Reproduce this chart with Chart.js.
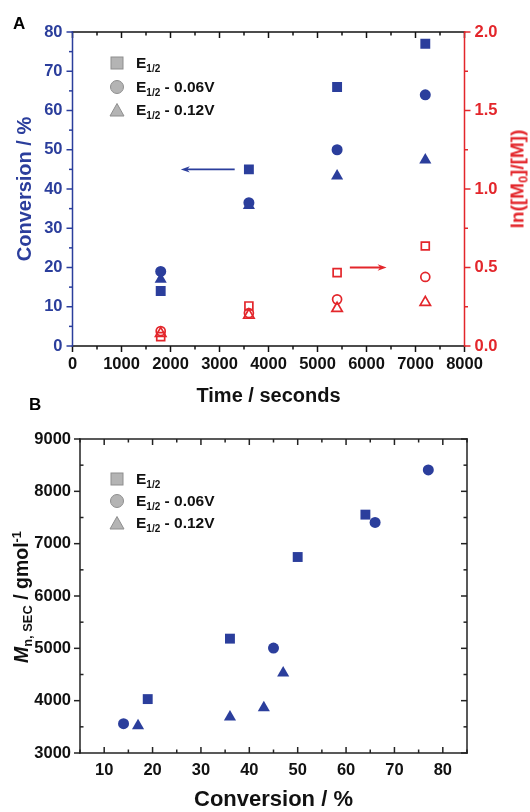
<!DOCTYPE html>
<html>
<head>
<meta charset="utf-8">
<script src="https://cdn.jsdelivr.net/npm/chart.js@4.4.1/dist/chart.umd.min.js"></script>
<style>
html,body{margin:0;padding:0;background:#fff;}
body{width:530px;height:812px;position:relative;overflow:hidden;font-family:"Liberation Sans",Arial,sans-serif;font-weight:bold;}
#wa{position:absolute;left:0;top:0;width:530px;height:408px;}
#wb{position:absolute;left:0;top:408px;width:530px;height:404px;}
.txt{position:absolute;white-space:nowrap;line-height:1;}
.rot{transform:translate(-50%,-50%) rotate(-90deg);}
.sub{font-size:0.66em;vertical-align:-0.28em;line-height:0;}
.sup{font-size:0.66em;vertical-align:0.55em;line-height:0;}
.leg{position:absolute;white-space:nowrap;line-height:1;font-size:15.5px;color:#111;}
.sym{position:absolute;}
</style>
</head>
<body>
<div id="wa"><canvas id="ca"></canvas></div>
<div id="wb"><canvas id="cb"></canvas></div>

<div class="txt" style="left:13px;top:15px;font-size:17px;color:#000;">A</div>
<div class="txt" style="left:29px;top:396px;font-size:17px;color:#000;">B</div>

<div class="txt rot" style="left:517px;top:179px;font-size:19px;color:#e3262b;">ln([M<span class="sub">0</span>]/[M])</div>
<div class="txt rot" style="left:22px;top:597px;font-size:19.5px;color:#111;"><i>M</i><span class="sub">n, SEC</span> / gmol<span class="sup">-1</span></div>

<div id="legends"></div>

<script>
// ---------- DATA ----------
const timeSeconds = [1800, 3600, 5400, 7200];
const convE12     = [14, 45, 66, 77];
const convE12m006 = [19, 36.5, 50, 64];
const convE12m012 = [17, 35.8, 43.3, 47.4];
const lnE12       = [0.06, 0.255, 0.467, 0.637];
const lnE12m006   = [0.095, 0.21, 0.297, 0.44];
const lnE12m012   = [0.08, 0.197, 0.24, 0.278];

const convB_E12   = [19, 36, 50, 64];
const mnB_E12     = [4030, 5185, 6745, 7555];
const convB_m006  = [14, 45, 66, 77];
const mnB_m006    = [3560, 5005, 7405, 8410];
const convB_m012  = [17, 36, 43, 47];
const mnB_m012    = [3520, 3690, 3865, 4530];

const ticksTime   = [0, 1000, 2000, 3000, 4000, 5000, 6000, 7000, 8000];
const ticksConvA  = [0, 10, 20, 30, 40, 50, 60, 70, 80];
const ticksLn     = [0, 0.5, 1.0, 1.5, 2.0];
const ticksConvB  = [10, 20, 30, 40, 50, 60, 70, 80];
const ticksMn     = [3000, 4000, 5000, 6000, 7000, 8000, 9000];

const seriesNames = ['E1/2', 'E1/2 - 0.06V', 'E1/2 - 0.12V'];

// arrows (data units)
const arrowsA = [
  {x0: 3310, x1: 2210, y: 45, scale: 'y', color: '#2b3e9c'},
  {x0: 5660, x1: 6410, y: 0.5, scale: 'y1', color: '#e3262b'}
];

// ---------- STYLE ----------
const BLUE = '#2b3e9c';
const RED = '#e3262b';
const FONT = '"Liberation Sans", Arial, sans-serif';
const TICK_SIZE = 16.5;
Chart.defaults.font.family = FONT;
Chart.defaults.font.weight = 'bold';

function pts(xs, ys){ return xs.map((x,i)=>({x:x, y:ys[i]})); }
const plain = v => String(v);

const framePlugin = {
  id: 'frame',
  afterDraw(chart, args, opts) {
    const ctx = chart.ctx, a = chart.chartArea;
    ctx.save();
    ctx.lineWidth = opts.lineWidth || 1.5;
    for (const s of opts.sides) {
      const sc = chart.scales[s.scale];
      ctx.strokeStyle = s.color;
      ctx.lineCap = 'square';
      ctx.beginPath();
      if (s.edge === 'bottom') { ctx.moveTo(a.left, a.bottom); ctx.lineTo(a.right, a.bottom); }
      if (s.edge === 'top')    { ctx.moveTo(a.left, a.top);    ctx.lineTo(a.right, a.top); }
      if (s.edge === 'left')   { ctx.moveTo(a.left, a.top);    ctx.lineTo(a.left, a.bottom); }
      if (s.edge === 'right')  { ctx.moveTo(a.right, a.top);   ctx.lineTo(a.right, a.bottom); }
      ctx.stroke();
      ctx.lineCap = 'butt';
      const n = Math.round((sc.max - sc.min) / s.minor);
      for (let i = 0; i <= n; i++) {
        const v = sc.min + i * s.minor;
        const r = v / s.major;
        const major = Math.abs(r - Math.round(r)) < 1e-6;
        const len = major ? opts.majorLen : opts.minorLen;
        const dir = major ? s.majorDir : s.minorDir;
        const sign = dir === 'out' ? 1 : -1;
        const p = sc.getPixelForValue(v);
        ctx.beginPath();
        if (s.edge === 'bottom') { ctx.moveTo(p, a.bottom); ctx.lineTo(p, a.bottom + sign*len); }
        if (s.edge === 'top')    { ctx.moveTo(p, a.top);    ctx.lineTo(p, a.top - sign*len); }
        if (s.edge === 'left')   { ctx.moveTo(a.left, p);   ctx.lineTo(a.left - sign*len, p); }
        if (s.edge === 'right')  { ctx.moveTo(a.right, p);  ctx.lineTo(a.right + sign*len, p); }
        ctx.stroke();
      }
    }
    ctx.restore();
  }
};

const arrowPlugin = {
  id: 'arrows',
  afterDatasetsDraw(chart, args, opts) {
    if (!opts.items) return;
    const ctx = chart.ctx;
    ctx.save();
    for (const ar of opts.items) {
      const xs = chart.scales.x, ys = chart.scales[ar.scale];
      const px0 = xs.getPixelForValue(ar.x0), px1 = xs.getPixelForValue(ar.x1), py = ys.getPixelForValue(ar.y);
      const d = Math.sign(px1 - px0);
      const hl = 9, hw = 3.2;
      ctx.strokeStyle = ar.color; ctx.fillStyle = ar.color; ctx.lineWidth = 1.8;
      ctx.beginPath(); ctx.moveTo(px0, py); ctx.lineTo(px1 - d*hl*0.6, py); ctx.stroke();
      ctx.beginPath(); ctx.moveTo(px1, py); ctx.lineTo(px1 - d*hl, py - hw); ctx.lineTo(px1 - d*hl*0.7, py); ctx.lineTo(px1 - d*hl, py + hw); ctx.closePath(); ctx.fill();
    }
    ctx.restore();
  }
};

function tickFont(sz){ return {family: FONT, weight: 'bold', size: sz}; }

// ---------- CHART A ----------
new Chart(document.getElementById('ca'), {
  type: 'scatter',
  data: {
    datasets: [
      {label: seriesNames[1], data: pts(timeSeconds, convE12m006), yAxisID: 'y', pointStyle: 'circle', pointRadius: 5.5, pointHoverRadius: 5.5, backgroundColor: BLUE, borderColor: BLUE, borderWidth: 0},
      {label: seriesNames[0], data: pts(timeSeconds, convE12), yAxisID: 'y', pointStyle: 'rect', pointRadius: 7, pointHoverRadius: 7, backgroundColor: BLUE, borderColor: BLUE, borderWidth: 0},
      {label: seriesNames[2], data: pts(timeSeconds, convE12m012), yAxisID: 'y', pointStyle: 'triangle', pointRadius: 7, pointHoverRadius: 7, backgroundColor: BLUE, borderColor: BLUE, borderWidth: 0},
      {label: seriesNames[0], data: pts(timeSeconds, lnE12), yAxisID: 'y1', pointStyle: 'rect', pointRadius: 5.6, pointHoverRadius: 5.6, backgroundColor: 'rgba(255,255,255,0)', borderColor: RED, borderWidth: 1.7},
      {label: seriesNames[1], data: pts(timeSeconds, lnE12m006), yAxisID: 'y1', pointStyle: 'circle', pointRadius: 4.5, pointHoverRadius: 4.5, backgroundColor: 'rgba(255,255,255,0)', borderColor: RED, borderWidth: 1.7},
      {label: seriesNames[2], data: pts(timeSeconds, lnE12m012), yAxisID: 'y1', pointStyle: 'triangle', pointRadius: 6, pointHoverRadius: 6, backgroundColor: 'rgba(255,255,255,0)', borderColor: RED, borderWidth: 1.7}
    ]
  },
  options: {
    responsive: true, maintainAspectRatio: false, animation: false,
    events: [],
    layout: {padding: {top: 32, left: 0, right: 0, bottom: 0}},
    plugins: {
      legend: {display: false}, tooltip: {enabled: false},
      frame: {lineWidth: 1.5, majorLen: 6, minorLen: 3.5, sides: [
        {scale: 'x', edge: 'bottom', color: '#111', majorDir: 'out', minorDir: 'out', major: 1000, minor: 500},
        {scale: 'x', edge: 'top', color: '#111', majorDir: 'in', minorDir: 'in', major: 1000, minor: 500},
        {scale: 'y', edge: 'left', color: BLUE, majorDir: 'out', minorDir: 'out', major: 10, minor: 5},
        {scale: 'y1', edge: 'right', color: RED, majorDir: 'out', minorDir: 'out', major: 0.5, minor: 0.25}
      ]},
      arrows: {items: arrowsA}
    },
    scales: {
      x: {
        type: 'linear', position: 'bottom', min: 0, max: 8000,
        afterBuildTicks(s){ s.ticks = ticksTime.map(v=>({value:v})); },
        afterFit(s){ s.height = 62; },
        ticks: {color: '#111', font: tickFont(TICK_SIZE), padding: 9, maxRotation: 0, autoSkip: false, callback: plain},
        grid: {display: false, drawTicks: false}, border: {display: false},
        title: {display: true, text: 'Time / seconds', color: '#111', font: {family: FONT, weight: 'bold', size: 20, lineHeight: 1}, padding: {top: 0, bottom: 2}}
      },
      y: {
        type: 'linear', position: 'left', min: 0, max: 80,
        afterBuildTicks(s){ s.ticks = ticksConvA.map(v=>({value:v})); },
        afterFit(s){ s.width = 72.5; },
        ticks: {color: BLUE, font: tickFont(TICK_SIZE), padding: 10, autoSkip: false, callback: plain},
        grid: {display: false, drawTicks: false}, border: {display: false},
        title: {display: true, text: 'Conversion / %', color: BLUE, font: {family: FONT, weight: 'bold', size: 20, lineHeight: 1}, padding: {top: 15, bottom: 0}}
      },
      y1: {
        type: 'linear', position: 'right', min: 0, max: 2,
        afterBuildTicks(s){ s.ticks = ticksLn.map(v=>({value:v})); },
        afterFit(s){ s.width = 65.5; },
        ticks: {color: RED, font: tickFont(TICK_SIZE), padding: 10, autoSkip: false, callback: v => Number(v).toFixed(1)},
        grid: {display: false, drawTicks: false}, border: {display: false}
      }
    }
  },
  plugins: [framePlugin, arrowPlugin]
});

// ---------- CHART B ----------
new Chart(document.getElementById('cb'), {
  type: 'scatter',
  data: {
    datasets: [
      {label: seriesNames[1], data: pts(convB_m006, mnB_m006), pointStyle: 'circle', pointRadius: 5.5, pointHoverRadius: 5.5, backgroundColor: BLUE, borderColor: BLUE, borderWidth: 0},
      {label: seriesNames[0], data: pts(convB_E12, mnB_E12), pointStyle: 'rect', pointRadius: 7, pointHoverRadius: 7, backgroundColor: BLUE, borderColor: BLUE, borderWidth: 0},
      {label: seriesNames[2], data: pts(convB_m012, mnB_m012), pointStyle: 'triangle', pointRadius: 7, pointHoverRadius: 7, backgroundColor: BLUE, borderColor: BLUE, borderWidth: 0}
    ]
  },
  options: {
    responsive: true, maintainAspectRatio: false, animation: false,
    events: [],
    layout: {padding: {top: 31, left: 0, right: 63, bottom: 0}},
    plugins: {
      legend: {display: false}, tooltip: {enabled: false},
      frame: {lineWidth: 1.5, majorLen: 6, minorLen: 3.5, sides: [
        {scale: 'x', edge: 'bottom', color: '#222', majorDir: 'in', minorDir: 'in', major: 10, minor: 5},
        {scale: 'x', edge: 'top', color: '#222', majorDir: 'in', minorDir: 'in', major: 10, minor: 5},
        {scale: 'y', edge: 'left', color: '#222', majorDir: 'out', minorDir: 'in', major: 1000, minor: 500},
        {scale: 'y', edge: 'right', color: '#222', majorDir: 'in', minorDir: 'in', major: 1000, minor: 500}
      ]}
    },
    scales: {
      x: {
        type: 'linear', position: 'bottom', min: 5, max: 85,
        afterBuildTicks(s){ s.ticks = ticksConvB.map(v=>({value:v})); },
        afterFit(s){ s.height = 59; },
        ticks: {color: '#111', font: tickFont(TICK_SIZE), padding: 8, maxRotation: 0, autoSkip: false, callback: plain},
        grid: {display: false, drawTicks: false}, border: {display: false},
        title: {display: true, text: 'Conversion / %', color: '#111', font: {family: FONT, weight: 'bold', size: 22, lineHeight: 1}, padding: {top: 0, bottom: 1}}
      },
      y: {
        type: 'linear', position: 'left', min: 3000, max: 9000,
        afterBuildTicks(s){ s.ticks = ticksMn.map(v=>({value:v})); },
        afterFit(s){ s.width = 80; },
        ticks: {color: '#111', font: tickFont(TICK_SIZE), padding: 9, autoSkip: false, callback: plain},
        grid: {display: false, drawTicks: false}, border: {display: false}
      }
    }
  },
  plugins: [framePlugin]
});

// ---------- LEGENDS (HTML text) ----------
function legendSym(kind, cx, cy){
  const s = 16;
  let shape = '';
  const fill = '#b4b4b4', stroke = '#8e8e8e';
  if (kind === 'rect') shape = '<rect x="2" y="2" width="12" height="12" fill="'+fill+'" stroke="'+stroke+'" stroke-width="1"/>';
  if (kind === 'circle') shape = '<circle cx="8" cy="8" r="6.5" fill="'+fill+'" stroke="'+stroke+'" stroke-width="1"/>';
  if (kind === 'triangle') shape = '<polygon points="8,1.5 15,14 1,14" fill="'+fill+'" stroke="'+stroke+'" stroke-width="1"/>';
  return '<svg class="sym" width="'+s+'" height="'+s+'" style="left:'+(cx-8)+'px;top:'+(cy-8)+'px">'+shape+'</svg>';
}
function legendText(name, x, cy){
  const m = name.match(/^E1\/2(.*)$/);
  return '<div class="leg" style="left:'+x+'px;top:'+(cy-8)+'px">E<span class="sub" style="font-size:10px;vertical-align:-4px">1/2</span>'+m[1]+'</div>';
}
const kinds = ['rect', 'circle', 'triangle'];
const legendRowsA = [63, 86.5, 110];
const legendRowsB = [479, 501, 523];
let html = '';
kinds.forEach((k,i)=>{
  html += legendSym(k, 117, legendRowsA[i]) + legendText(seriesNames[i], 136, legendRowsA[i]);
  html += legendSym(k, 117, legendRowsB[i]) + legendText(seriesNames[i], 136, legendRowsB[i]);
});
document.getElementById('legends').innerHTML = html;
</script>
</body>
</html>
